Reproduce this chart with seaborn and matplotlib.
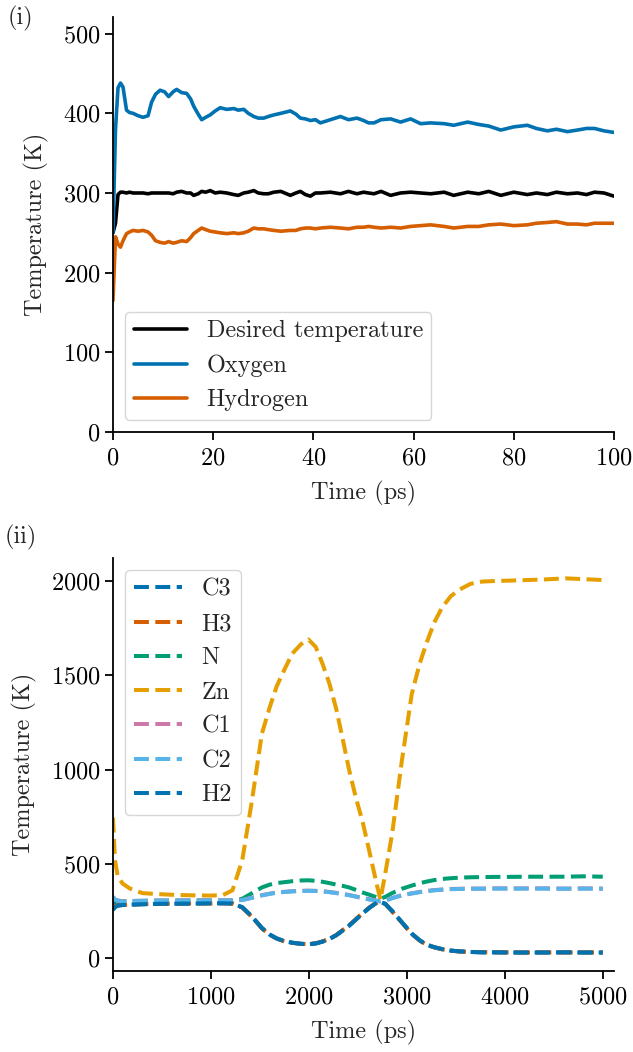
import numpy as np
import pandas as pd
import matplotlib
matplotlib.use("Agg")
import matplotlib.pyplot as plt
import seaborn as sns

# panel (i): thermostat test, time in ps
time_i = [0, 0.5, 1, 1.5, 2, 2.7, 3.3, 4, 5, 6, 7, 7.7, 8.5, 9.4, 10.3, 11.1, 12, 12.7, 13.7, 14.7,
          15.5, 16.1, 17, 17.7, 18.5, 19.4, 20.4, 21.4, 22.7, 24.1, 25, 26.1, 27, 28.1, 29, 30.1, 31,
          32.1, 33.5, 35.4, 36.5, 37.4, 38.4, 39.4, 40.4, 41.4, 43.4, 45.4, 47, 48.7, 50, 51, 52.1,
          53.5, 55.4, 57.4, 59.4, 61.4, 63.4, 66.1, 68, 70.8, 73, 75, 77.4, 80, 82.7, 84.5, 86.7,
          88.5, 90.7, 92.7, 94.5, 96.1, 98, 100]
desired = [250, 262, 298, 301, 301, 300, 301, 300, 300, 300, 299, 300, 300, 300, 300, 300, 299, 301,
           302, 300, 300, 297, 299, 302, 301, 303, 300, 301, 300, 298, 297, 300, 301, 303, 300, 299,
           299, 301, 302, 297, 300, 302, 298, 296, 300, 300, 301, 299, 302, 299, 301, 300, 299, 302,
           297, 300, 301, 300, 299, 301, 297, 301, 299, 302, 297, 301, 298, 300, 298, 301, 299, 300,
           298, 301, 300, 296]
oxygen = [250, 380, 432, 438, 433, 404, 401, 400, 397, 395, 397, 414, 424, 429, 427, 421, 427, 430,
          426, 425, 418, 409, 399, 392, 395, 398, 403, 407, 405, 406, 404, 405, 400, 396, 394, 394,
          396, 398, 400, 403, 399, 394, 393, 391, 392, 388, 392, 396, 392, 394, 391, 388, 388, 392,
          393, 389, 393, 387, 388, 387, 385, 389, 386, 384, 379, 383, 385, 381, 378, 380, 377, 379,
          381, 381, 378, 376]
hydrogen = [165, 245, 236, 232, 240, 249, 251, 253, 252, 253, 251, 247, 240, 238, 237, 239, 237, 238,
            240, 239, 244, 249, 253, 256, 254, 252, 251, 250, 249, 250, 249, 250, 252, 256, 255, 255,
            254, 253, 252, 253, 253, 255, 256, 256, 255, 256, 257, 256, 255, 257, 257, 258, 257, 256,
            257, 256, 258, 259, 260, 258, 256, 258, 258, 260, 261, 259, 260, 262, 263, 264, 261, 261,
            260, 262, 262, 262]

# panel (ii): heating run per atom type, time in ps
time_ii = [0, 20, 50, 100, 170, 300, 450, 650, 850, 1000, 1120, 1220, 1320, 1420, 1520, 1600, 1670,
           1750, 1830, 1920, 1995, 2070, 2140, 2210, 2280, 2340, 2410, 2480, 2550, 2620, 2680, 2730,
           2780, 2850, 2950, 3050, 3130, 3200, 3280, 3360, 3450, 3540, 3650, 3770, 3900, 4050, 4220,
           4400, 4620, 4800, 5000]
t_c3 = [300, 278, 282, 283, 284, 286, 288, 289, 290, 291, 291, 290, 270, 220, 160, 125, 105, 90, 82,
        76, 74, 78, 88, 102, 122, 145, 172, 205, 238, 268, 290, 298, 288, 250, 190, 130, 95, 72, 58,
        48, 40, 36, 33, 31, 31, 30, 30, 30, 31, 30, 30]
t_h3 = [280, 272, 279, 282, 284, 287, 288, 290, 290, 290, 291, 289, 268, 218, 158, 124, 104, 89, 81,
        76, 75, 79, 89, 103, 123, 147, 174, 207, 240, 270, 291, 299, 287, 248, 188, 128, 94, 71, 57,
        47, 40, 35, 33, 32, 31, 31, 30, 31, 30, 31, 30]
t_n = [320, 305, 303, 302, 303, 304, 305, 305, 306, 306, 306, 306, 315, 345, 375, 390, 398, 403, 408,
       412, 413, 410, 405, 398, 390, 384, 375, 362, 348, 336, 325, 315, 325, 345, 368, 385, 397, 406,
       414, 420, 424, 427, 429, 430, 431, 431, 432, 432, 432, 434, 432]
t_zn = [745, 520, 430, 395, 370, 345, 340, 335, 333, 332, 334, 360, 520, 840, 1190, 1330, 1440, 1530,
        1615, 1665, 1690, 1650, 1560, 1455, 1320, 1175, 1000, 850, 720, 560, 420, 310, 450, 660,
        1050, 1400, 1560, 1670, 1780, 1860, 1920, 1955, 1985, 1997, 2000, 2002, 2005, 2008, 2014,
        2010, 2005]
t_c1 = [326, 311, 306, 302, 303, 304, 305, 306, 306, 307, 307, 306, 309, 321, 334, 342, 348, 352, 355,
        357, 358, 357, 355, 351, 346, 341, 335, 327, 319, 312, 306, 302, 307, 319, 334, 344, 351, 356,
        361, 364, 367, 368, 369, 369, 370, 370, 370, 370, 369, 370, 369]
t_c2 = [325, 310, 305, 300, 302, 303, 304, 305, 305, 306, 306, 305, 308, 320, 333, 341, 347, 351, 354,
        356, 357, 356, 354, 350, 345, 340, 334, 326, 318, 311, 305, 301, 306, 318, 333, 343, 350, 355,
        360, 363, 366, 367, 368, 368, 369, 369, 369, 369, 368, 369, 368]
t_h2 = [255, 270, 278, 282, 284, 286, 288, 289, 290, 291, 291, 290, 270, 220, 160, 125, 105, 90, 82,
        76, 74, 78, 88, 102, 122, 145, 172, 205, 238, 268, 290, 298, 288, 250, 190, 130, 95, 72, 58,
        48, 40, 36, 33, 31, 31, 30, 30, 30, 31, 30, 30]

atoms = ["C3", "H3", "N", "Zn", "C1", "C2", "H2"]
atom_temps = [t_c3, t_h3, t_n, t_zn, t_c1, t_c2, t_h2]
atom_colors = ["#0072B2", "#D55E00", "#009E73", "#E69F00", "#CC79A7", "#56B4E9", "#0072B2"]

sns.set_theme(style="ticks")
plt.rcParams["font.family"] = ["cmr10", "DejaVu Serif"]
plt.rcParams["mathtext.fontset"] = "cm"
plt.rcParams["axes.formatter.use_mathtext"] = True
fs = 17.5
plt.rcParams["font.size"] = fs
plt.rcParams["axes.labelsize"] = fs
plt.rcParams["xtick.labelsize"] = fs
plt.rcParams["ytick.labelsize"] = fs
plt.rcParams["legend.fontsize"] = fs
plt.rcParams["axes.edgecolor"] = "black"
plt.rcParams["xtick.color"] = "black"
plt.rcParams["ytick.color"] = "black"
plt.rcParams["axes.linewidth"] = 1.3
plt.rcParams["xtick.major.width"] = 1.3
plt.rcParams["ytick.major.width"] = 1.3
plt.rcParams["xtick.major.size"] = 6
plt.rcParams["ytick.major.size"] = 6
plt.rcParams["xtick.major.pad"] = 5
plt.rcParams["ytick.major.pad"] = 3
plt.rcParams["axes.labelpad"] = 8

fig = plt.figure(figsize=(6.33, 10.52), dpi=100)
ax1 = fig.add_axes([0.1785, 0.5894, 0.7915, 0.3945])
ax2 = fig.add_axes([0.1785, 0.0770, 0.7915, 0.3926])

df1 = pd.DataFrame({"time": time_i, "Desired temperature": desired,
                    "Oxygen": oxygen, "Hydrogen": hydrogen})
for name, col in [("Desired temperature", "black"), ("Oxygen", "#0072B2"), ("Hydrogen", "#D55E00")]:
    sns.lineplot(data=df1, x="time", y=name, ax=ax1, color=col, lw=2.6, label=name)
ax1.set_xlim(0, 100)
ax1.set_ylim(0, 521)
ax1.set_yticks([0, 100, 200, 300, 400, 500])
ax1.set_xlabel("Time (ps)")
ax1.set_ylabel("Temperature (K)", labelpad=10)
ax1.legend(loc="lower left", handlelength=2.2, borderaxespad=0.5, borderpad=0.35)

df2 = pd.DataFrame({"time": time_ii})
for name, vals in zip(atoms, atom_temps):
    df2[name] = vals
for name, col in zip(atoms, atom_colors):
    sns.lineplot(data=df2, x="time", y=name, ax=ax2, color=col, lw=2.9,
                 linestyle="--", label=name)
ax2.set_xlim(0, 5115)
ax2.set_ylim(-68, 2122)
ax2.set_xticks([0, 1000, 2000, 3000, 4000, 5000])
ax2.set_yticks([0, 500, 1000, 1500, 2000])
ax2.set_xlabel("Time (ps)")
ax2.set_ylabel("Temperature (K)", labelpad=10)
ax2.legend(loc="upper left", handlelength=2.0, borderaxespad=0.5, borderpad=0.35)

sns.despine(fig=fig)
fig.text(0.012, 0.982, "(i)", fontsize=fs, va="center", ha="left")
fig.text(0.008, 0.489, "(ii)", fontsize=fs, va="center", ha="left")

fig.savefig("out.png", dpi=100)
